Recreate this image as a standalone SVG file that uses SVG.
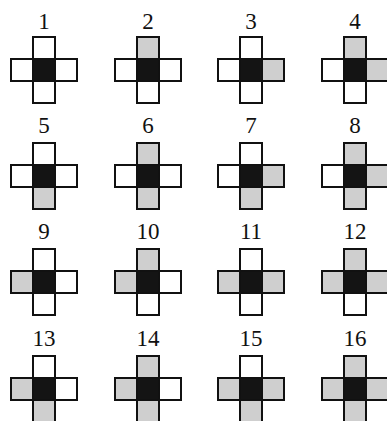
<svg xmlns="http://www.w3.org/2000/svg" width="387" height="421" viewBox="0 0 387 421">
<style>
.w,.g,.k{stroke:#111;stroke-width:2}
.w{fill:#fff}
.g{fill:#cfcfcf}
.k{fill:#141414}
.bg{fill:#fff;stroke:none}
text{font-family:"Liberation Serif","Times New Roman",serif;font-size:23px;fill:#111;text-anchor:middle}
</style>
<rect class="bg" x="0" y="0" width="387" height="421"/>
<g id="c1" transform="translate(44,37)"><text x="0" y="-8">1</text><rect class="w" x="-11" y="0" width="22" height="22"/><rect class="w" x="-33" y="22" width="22" height="22"/><rect class="w" x="11" y="22" width="22" height="22"/><rect class="w" x="-11" y="44" width="22" height="22"/><rect class="k" x="-11" y="22" width="22" height="22"/></g>
<g id="c2" transform="translate(148,37)"><text x="0" y="-8">2</text><rect class="g" x="-11" y="0" width="22" height="22"/><rect class="w" x="-33" y="22" width="22" height="22"/><rect class="w" x="11" y="22" width="22" height="22"/><rect class="w" x="-11" y="44" width="22" height="22"/><rect class="k" x="-11" y="22" width="22" height="22"/></g>
<g id="c3" transform="translate(251,37)"><text x="0" y="-8">3</text><rect class="w" x="-11" y="0" width="22" height="22"/><rect class="w" x="-33" y="22" width="22" height="22"/><rect class="g" x="11" y="22" width="22" height="22"/><rect class="w" x="-11" y="44" width="22" height="22"/><rect class="k" x="-11" y="22" width="22" height="22"/></g>
<g id="c4" transform="translate(355,37)"><text x="0" y="-8">4</text><rect class="g" x="-11" y="0" width="22" height="22"/><rect class="w" x="-33" y="22" width="22" height="22"/><rect class="g" x="11" y="22" width="22" height="22"/><rect class="w" x="-11" y="44" width="22" height="22"/><rect class="k" x="-11" y="22" width="22" height="22"/></g>
<g id="c5" transform="translate(44,143)"><text x="0" y="-10">5</text><rect class="w" x="-11" y="0" width="22" height="22"/><rect class="w" x="-33" y="22" width="22" height="22"/><rect class="w" x="11" y="22" width="22" height="22"/><rect class="g" x="-11" y="44" width="22" height="22"/><rect class="k" x="-11" y="22" width="22" height="22"/></g>
<g id="c6" transform="translate(148,143)"><text x="0" y="-10">6</text><rect class="g" x="-11" y="0" width="22" height="22"/><rect class="w" x="-33" y="22" width="22" height="22"/><rect class="w" x="11" y="22" width="22" height="22"/><rect class="g" x="-11" y="44" width="22" height="22"/><rect class="k" x="-11" y="22" width="22" height="22"/></g>
<g id="c7" transform="translate(251,143)"><text x="0" y="-10">7</text><rect class="w" x="-11" y="0" width="22" height="22"/><rect class="w" x="-33" y="22" width="22" height="22"/><rect class="g" x="11" y="22" width="22" height="22"/><rect class="g" x="-11" y="44" width="22" height="22"/><rect class="k" x="-11" y="22" width="22" height="22"/></g>
<g id="c8" transform="translate(355,143)"><text x="0" y="-10">8</text><rect class="g" x="-11" y="0" width="22" height="22"/><rect class="w" x="-33" y="22" width="22" height="22"/><rect class="g" x="11" y="22" width="22" height="22"/><rect class="g" x="-11" y="44" width="22" height="22"/><rect class="k" x="-11" y="22" width="22" height="22"/></g>
<g id="c9" transform="translate(44,249)"><text x="0" y="-10">9</text><rect class="w" x="-11" y="0" width="22" height="22"/><rect class="g" x="-33" y="22" width="22" height="22"/><rect class="w" x="11" y="22" width="22" height="22"/><rect class="w" x="-11" y="44" width="22" height="22"/><rect class="k" x="-11" y="22" width="22" height="22"/></g>
<g id="c10" transform="translate(148,249)"><text x="0" y="-10">10</text><rect class="g" x="-11" y="0" width="22" height="22"/><rect class="g" x="-33" y="22" width="22" height="22"/><rect class="w" x="11" y="22" width="22" height="22"/><rect class="w" x="-11" y="44" width="22" height="22"/><rect class="k" x="-11" y="22" width="22" height="22"/></g>
<g id="c11" transform="translate(251,249)"><text x="0" y="-10">11</text><rect class="w" x="-11" y="0" width="22" height="22"/><rect class="g" x="-33" y="22" width="22" height="22"/><rect class="g" x="11" y="22" width="22" height="22"/><rect class="w" x="-11" y="44" width="22" height="22"/><rect class="k" x="-11" y="22" width="22" height="22"/></g>
<g id="c12" transform="translate(355,249)"><text x="0" y="-10">12</text><rect class="g" x="-11" y="0" width="22" height="22"/><rect class="g" x="-33" y="22" width="22" height="22"/><rect class="g" x="11" y="22" width="22" height="22"/><rect class="w" x="-11" y="44" width="22" height="22"/><rect class="k" x="-11" y="22" width="22" height="22"/></g>
<g id="c13" transform="translate(44,356)"><text x="0" y="-10.5">13</text><rect class="w" x="-11" y="0" width="22" height="22"/><rect class="g" x="-33" y="22" width="22" height="22"/><rect class="w" x="11" y="22" width="22" height="22"/><rect class="g" x="-11" y="44" width="22" height="22"/><rect class="k" x="-11" y="22" width="22" height="22"/></g>
<g id="c14" transform="translate(148,356)"><text x="0" y="-10.5">14</text><rect class="g" x="-11" y="0" width="22" height="22"/><rect class="g" x="-33" y="22" width="22" height="22"/><rect class="w" x="11" y="22" width="22" height="22"/><rect class="g" x="-11" y="44" width="22" height="22"/><rect class="k" x="-11" y="22" width="22" height="22"/></g>
<g id="c15" transform="translate(251,356)"><text x="0" y="-10.5">15</text><rect class="w" x="-11" y="0" width="22" height="22"/><rect class="g" x="-33" y="22" width="22" height="22"/><rect class="g" x="11" y="22" width="22" height="22"/><rect class="g" x="-11" y="44" width="22" height="22"/><rect class="k" x="-11" y="22" width="22" height="22"/></g>
<g id="c16" transform="translate(355,356)"><text x="0" y="-10.5">16</text><rect class="g" x="-11" y="0" width="22" height="22"/><rect class="g" x="-33" y="22" width="22" height="22"/><rect class="g" x="11" y="22" width="22" height="22"/><rect class="g" x="-11" y="44" width="22" height="22"/><rect class="k" x="-11" y="22" width="22" height="22"/></g>
</svg>
